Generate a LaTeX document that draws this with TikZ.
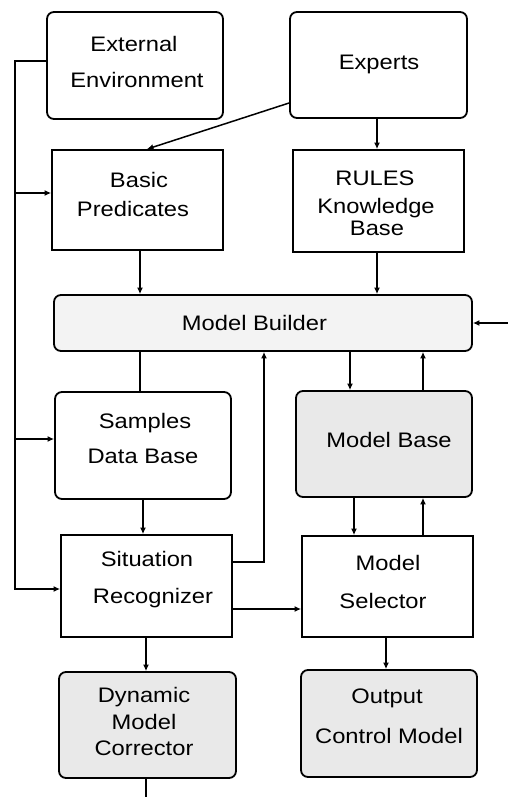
\documentclass[tikz,border=0pt]{standalone}
\usepackage{fontspec}
\setmainfont{Liberation Sans}
\usetikzlibrary{arrows.meta}
\newcommand{\wtxt}[1]{\scalebox{1.13}[1]{#1}}
\begin{document}
\begin{tikzpicture}[x=1pt,y=-1pt,
  box/.style={draw=black,line width=1.8pt,inner sep=0pt,fill=white},
  rbox/.style={box,rounded corners=7pt},
  txt/.style={anchor=base,inner sep=0pt,font=\fontsize{21}{25}\selectfont},
  conn/.style={line width=1.5pt,-{Latex[length=6.5pt,width=6pt]}},
  plainln/.style={line width=1.5pt}]
\useasboundingbox (0,0) rectangle (508,797);
\definecolor{lightfill}{HTML}{F3F3F3}
\definecolor{grayfill}{HTML}{E9E9E9}

% boxes
\node[rbox,minimum width=176pt,minimum height=107pt] (ext) at (135,65.5) {};
\node[rbox,minimum width=177pt,minimum height=106pt] (exp) at (378.5,65) {};
\node[box,minimum width=171pt,minimum height=100pt] (bp) at (137.5,200) {};
\node[box,minimum width=171pt,minimum height=102pt] (rul) at (378.5,201) {};
\node[rbox,fill=lightfill,minimum width=418pt,minimum height=56pt] (mb) at (263,323) {};
\node[rbox,minimum width=176pt,minimum height=107pt] (sdb) at (143,445.5) {};
\node[rbox,fill=grayfill,minimum width=176pt,minimum height=106pt] (mbase) at (384,444) {};
\node[box,minimum width=171pt,minimum height=102pt] (sr) at (146.5,586) {};
\node[box,minimum width=171pt,minimum height=101pt] (ms) at (387.5,586.5) {};
\node[rbox,fill=grayfill,minimum width=177pt,minimum height=106pt] (dmc) at (147.5,725) {};
\node[rbox,fill=grayfill,minimum width=176pt,minimum height=107pt] (ocm) at (389,723.5) {};

% texts
\node[txt] (ext1) at (134,52) {\wtxt{External}};
\node[txt] (ext2) at (137,88) {\wtxt{Environment}};
\node[txt] (exp1) at (379,70) {\wtxt{Experts}};
\node[txt] (bp1) at (139,187) {\wtxt{Basic}};
\node[txt] (bp2) at (133,216) {\wtxt{Predicates}};
\node[txt] (rul1) at (375,185) {\wtxt{RULES}};
\node[txt] (rul2) at (376,213) {\wtxt{Knowledge}};
\node[txt] (rul3) at (377,235) {\wtxt{Base}};
\node[txt] (mb1) at (254.5,330) {\wtxt{Model Builder}};
\node[txt] (sdb1) at (145,428) {\wtxt{Samples}};
\node[txt] (sdb2) at (143,463) {\wtxt{Data Base}};
\node[txt] (mbase1) at (389,447) {\wtxt{Model Base}};
\node[txt] (sr1) at (147,566) {\wtxt{Situation}};
\node[txt] (sr2) at (153,603) {\wtxt{Recognizer}};
\node[txt] (ms1) at (388,570) {\wtxt{Model}};
\node[txt] (ms2) at (383,608) {\wtxt{Selector}};
\node[txt] (dmc1) at (144,702) {\wtxt{Dynamic}};
\node[txt] (dmc2) at (144,729) {\wtxt{Model}};
\node[txt] (dmc3) at (144,755) {\wtxt{Corrector}};
\node[txt] (ocm1) at (387,703) {\wtxt{Output}};
\node[txt] (ocm2) at (389,743) {\wtxt{Control Model}};

% free ends
\coordinate (bustop) at (15,61);
\coordinate (busbot) at (15,589);
\coordinate (busbp) at (15,193);
\coordinate (bussdb) at (15,439);
\coordinate (inr) at (508,323);
\coordinate (bend) at (264,562);
\coordinate (outb) at (146,797);

% connectors
\draw[conn] (ext.west |- bustop) -- (bustop) -- (busbot) -- (sr.west |- busbot);
\draw[conn] (busbp) -- (bp.west |- busbp);
\draw[conn] (bussdb) -- (sdb.west |- bussdb);
\draw[conn] (exp.west |- 0,103) -- (bp.north -| 147,0);
\draw[conn] (exp.south -| 377,0) -- (rul.north -| 377,0);
\draw[conn] (bp.south -| 140,0) -- (mb.north -| 140,0);
\draw[conn] (rul.south -| 377,0) -- (mb.north -| 377,0);
\draw[plainln] (mb.south -| 140,0) -- (sdb.north -| 140,0);
\draw[conn] (inr) -- (mb.east);
\draw[conn] (mb.south -| 350,0) -- (mbase.north -| 350,0);
\draw[conn] (mbase.north -| 423,0) -- (mb.south -| 423,0);
\draw[conn] (sr.east |- bend) -- (bend) -- (mb.south -| bend);
\draw[conn] (sdb.south -| 143,0) -- (sr.north -| 143,0);
\draw[conn] (mbase.south -| 354,0) -- (ms.north -| 354,0);
\draw[conn] (ms.north -| 423,0) -- (mbase.south -| 423,0);
\draw[conn] (sr.east |- 0,609) -- (ms.west |- 0,609);
\draw[conn] (sr.south -| 146,0) -- (dmc.north -| 146,0);
\draw[conn] (ms.south -| 386,0) -- (ocm.north -| 386,0);
\draw[plainln] (dmc.south -| outb) -- (outb);
\end{tikzpicture}
\end{document}
